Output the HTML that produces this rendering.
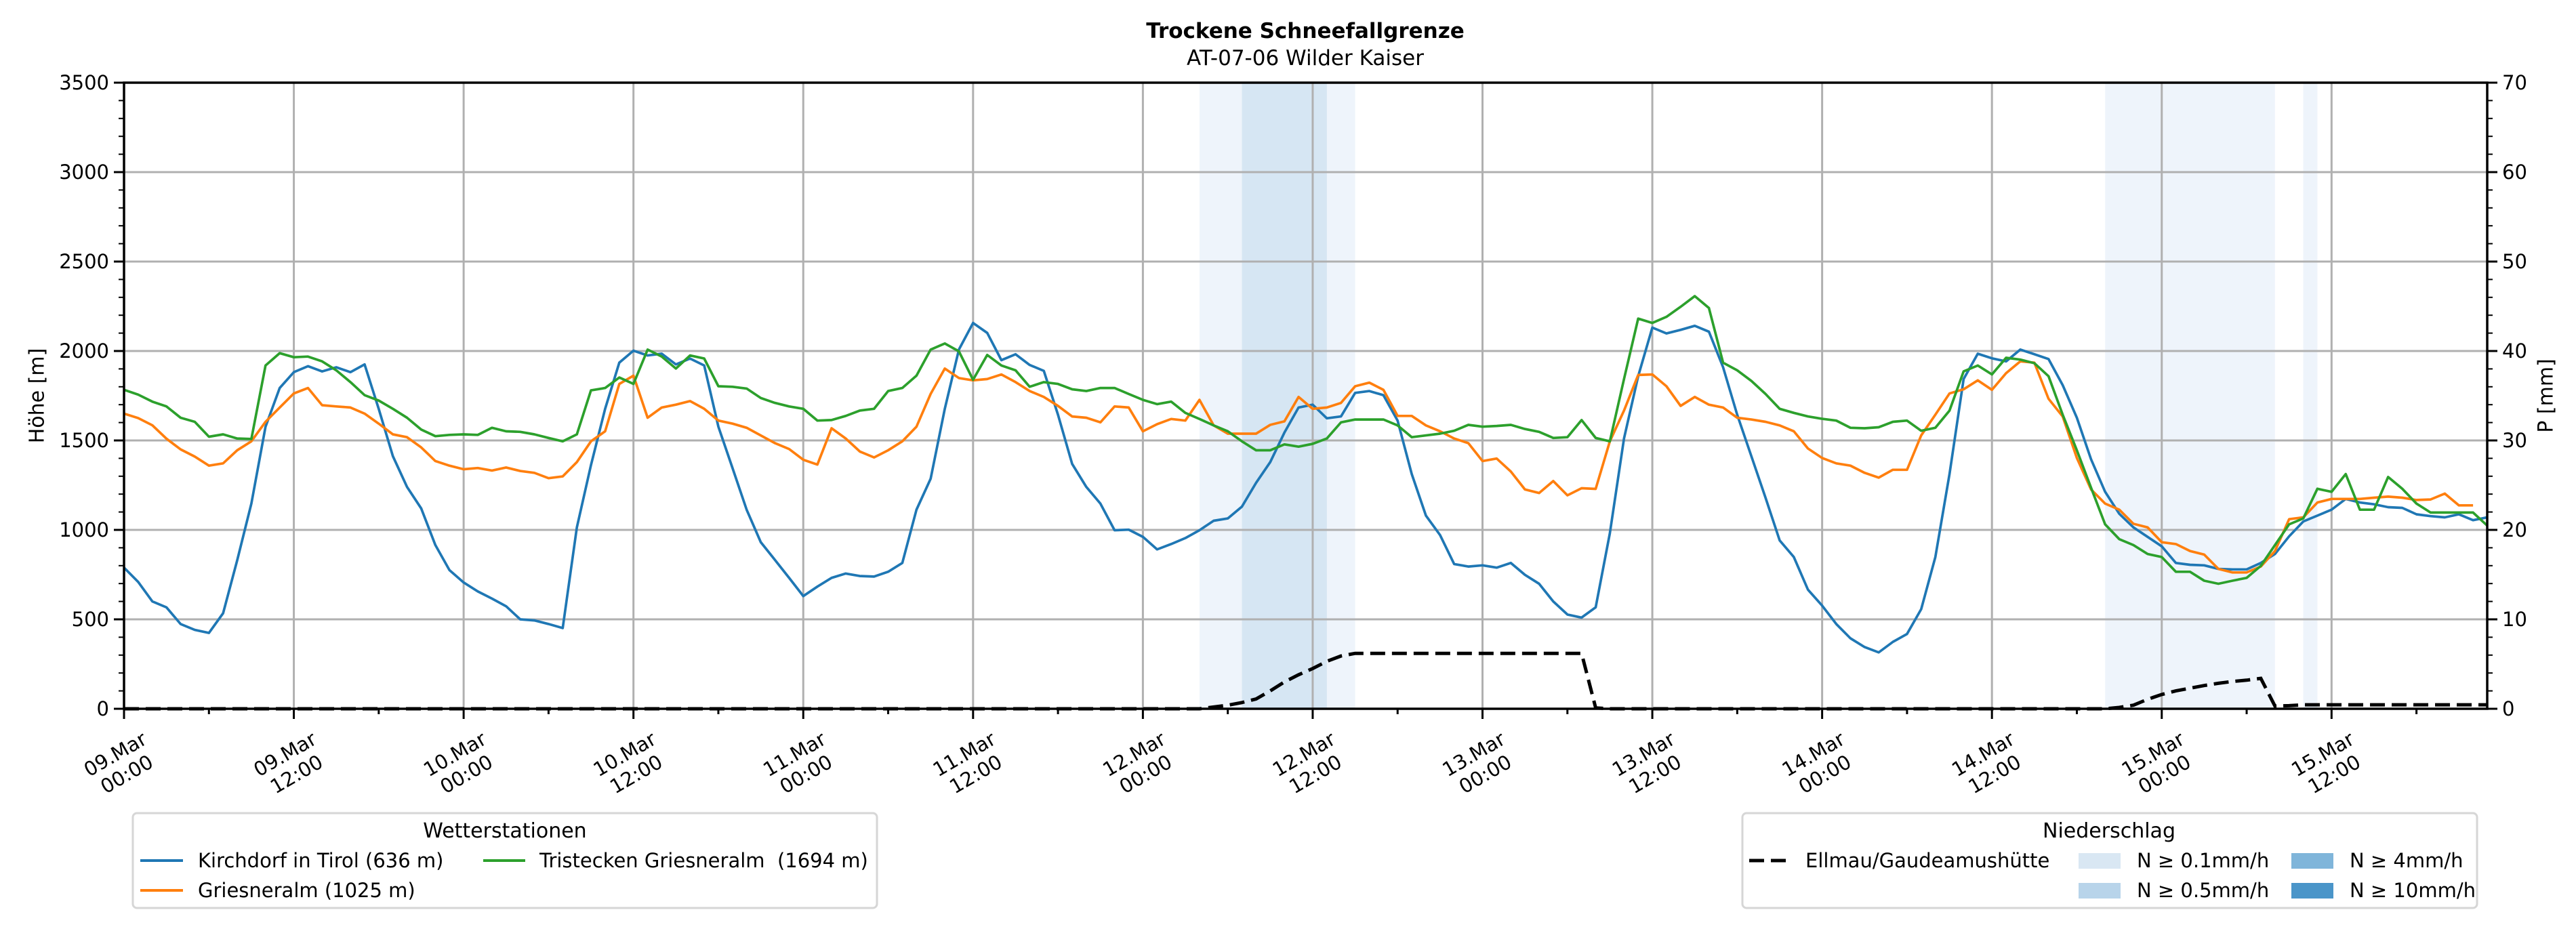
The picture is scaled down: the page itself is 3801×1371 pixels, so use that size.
<!DOCTYPE html>
<html><head><meta charset="utf-8"><style>
html,body{margin:0;padding:0;background:#fff;}
svg{display:block;font-family:"DejaVu Sans","Liberation Sans",sans-serif;}
</style></head><body>
<svg id="chart" width="3801" height="1371" viewBox="0 0 3801 1371" xmlns="http://www.w3.org/2000/svg">
<rect width="3801" height="1371" fill="#fff"/>
<text x="1926" y="56" font-size="31" font-weight="bold" text-anchor="middle">Trockene Schneefallgrenze</text>
<text x="1926" y="96" font-size="31" text-anchor="middle">AT-07-06 Wilder Kaiser</text>
<g id="bands"></g><g id="grid"></g><g id="series"></g><g id="axes"></g>
<text transform="translate(56,584) rotate(-90)" font-size="30" text-anchor="middle" dominant-baseline="middle">Höhe [m]</text>
<text transform="translate(3758,584) rotate(-90)" font-size="30" text-anchor="middle" dominant-baseline="middle">P [mm]</text>
<g>
<rect x="196" y="1200" width="1098" height="140" rx="6" fill="#fff" stroke="#d6d6d6" stroke-width="3"/>
<text x="745" y="1236" font-size="30" text-anchor="middle">Wetterstationen</text>
<line x1="207" y1="1270" x2="270" y2="1270" stroke="#1f77b4" stroke-width="4"/>
<text x="292" y="1280" font-size="29">Kirchdorf in Tirol (636 m)</text>
<line x1="207" y1="1314" x2="270" y2="1314" stroke="#ff7f0e" stroke-width="4"/>
<text x="292" y="1324" font-size="29">Griesneralm (1025 m)</text>
<line x1="713" y1="1270" x2="775" y2="1270" stroke="#2ca02c" stroke-width="4"/>
<text x="796" y="1280" font-size="29" xml:space="preserve">Tristecken Griesneralm  (1694 m)</text>
</g>
<g>
<rect x="2571" y="1200" width="1084" height="140" rx="6" fill="#fff" stroke="#d6d6d6" stroke-width="3"/>
<text x="3112" y="1236" font-size="30" text-anchor="middle">Niederschlag</text>
<line x1="2581" y1="1270" x2="2637" y2="1270" stroke="#000" stroke-width="5" stroke-dasharray="22,10"/>
<text x="2664" y="1280" font-size="29">Ellmau/Gaudeamushütte</text>
<rect x="3067" y="1259" width="62" height="23" fill="#d9e7f3"/>
<text x="3153" y="1280" font-size="29">N ≥ 0.1mm/h</text>
<rect x="3067" y="1303" width="62" height="23" fill="#b8d4ea"/>
<text x="3153" y="1324" font-size="29">N ≥ 0.5mm/h</text>
<rect x="3381" y="1259" width="62" height="23" fill="#7fb5da"/>
<text x="3467" y="1280" font-size="29">N ≥ 4mm/h</text>
<rect x="3381" y="1303" width="62" height="23" fill="#4a95c9"/>
<text x="3467" y="1324" font-size="29">N ≥ 10mm/h</text>
</g>
</svg>
<script>
const kirchdorf=[789,709,600,567,474,441,424,534,830,1147,1577,1793,1882,1915,1886,1909,1882,1925,1677,1412,1240,1120,915,775,706,656,616,573,500,494,474,451,1014,1362,1677,1935,2002,1975,1985,1925,1958,1919,1577,1345,1113,931,832,732,630,683,732,756,742,739,
766,815,1113,1286,1677,2008,2157,2101,1949,1982,1922,1889,1644,1369,1240,1147,998,1001,961,891,921,954,998,1051,1064,1130,1263,1379,1544,1684,1700,1624,1634,1766,1776,1753,1611,1312,1080,971,809,795,802,789,815,749,699,600,527,510,567,981,1511,1859,2131,2098,2118,
2141,2108,1909,1644,1412,1180,941,848,666,577,474,394,345,315,374,418,557,848,1312,1843,1985,1959,1942,2008,1982,1955,1809,1627,1395,1213,1090,1014,961,908,815,805,802,782,779,779,815,865,964,1047,1080,1113,1173,1153,1143,1127,1123,1087,1077,1070,1087,1054,1070];
const griesneralm=[1650,1625,1585,1510,1450,1410,1359,1372,1445,1495,1604,1684,1763,1793,1697,1690,1684,1650,1594,1534,1518,1461,1385,1359,1339,1346,1332,1349,1329,1319,1289,1299,1379,1495,1551,1816,1862,1627,1684,1700,1720,1677,1611,1594,1571,1528,1485,1452,1392,1365,1568,1511,1438,
1405,1445,1495,1577,1760,1902,1849,1836,1843,1869,1826,1776,1743,1693,1634,1627,1601,1690,1684,1551,1591,1620,1611,1727,1584,1538,1538,1538,1587,1607,1743,1677,1684,1710,1803,1823,1783,1637,1637,1584,1551,1511,1485,1385,1399,1326,1226,1206,1273,1193,1233,1229,1495,1667,1866,1869,1803,
1693,1743,
1700,1684,1627,1617,1604,1584,1551,1455,1402,1372,1359,1319,1292,1336,1336,1528,1644,1763,1786,1836,1783,1876,1942,1935,1733,1634,1402,1226,1147,1113,1034,1014,931,921,882,862,782,762,762,795,882,1060,1070,1153,1173,1173,1173,1180,1186,1180,1167,1170,1203,1137,1137];
const tristecken=[1783,1756,1717,1690,1627,1604,1521,1534,1511,1508,1919,1988,1965,1969,1942,1892,1826,1753,1723,1677,1627,1561,1524,1531,1534,1531,1571,1551,1548,1534,1514,1495,1534,1780,1793,1852,1816,2008,1969,1902,1975,1958,1803,1800,1790,1737,1710,1690,1677,1611,1614,1637,1667,
1677,1776,1793,1862,2008,2042,1998,1839,1978,1919,1892,1800,1826,1816,1786,1776,1793,1793,1760,1727,1703,1717,1654,1620,1584,1551,1495,1445,1445,1478,1465,1481,1511,1601,1617,1617,1617,1584,1518,1528,1538,1554,1587,1577,1581,1587,1564,1548,1514,1518,1614,1514,1495,1843,2181,2157,2191,2247,
2307,2240,1935,1892,1833,1760,1677,1654,1634,1621,1611,1571,1568,1574,1604,1611,1554,1571,1667,1886,1919,1869,1962,1952,1932,1859,1644,1445,1236,1031,948,915,865,848,766,766,716,699,716,732,799,915,1031,1064,1230,1213,1312,1113,1113,1296,1230,1147,1097,1097,1097,1097,1024];
const precip=[0,0,0,0,0,0,0,0,0,0,0,0,0,0,0,0,0,0,0,0,0,0,0,0,0,0,0,0,0,0,0,0,0,0,0,0,0,0,0,0,0,0,0,0,0,0,0,0,0,0,0,0,0,0,0,0,0,0,0,0,0,0,0,0,0,0,0,0,0,0,0,0,0,0,0,0,0,
0.2,0.4,0.7,1.1,2.0,3.0,3.8,4.5,5.3,5.9,6.2,6.2,6.2,6.2,6.2,6.2,6.2,6.2,6.2,6.2,6.2,6.2,6.2,6.2,6.2,6.2,6.2,
0.1,0,0,0,0,0,0,0,0,0,0,0,0,0,0,0,0,0,0,0,0,0,0,0,0,0,0,0,0,0,0,0,0,0,0,0,0,
0.15,0.4,1.06,1.6,2.0,2.3,2.6,2.85,3.05,3.2,3.4,0.3,0.35,0.45,0.45,0.45,0.45,0.45,0.45,0.45,0.45,0.45,0.45,0.45,0.45,0.45,0.45];
const bandStart=[76,79,140,154];
const bandEnd=[87,85,152,155];
const bandLevel=[0.1,0.5,0.1,0.1];
const xTickHours=[0,12,24,36,48,60,72,84,96,108,120,132,144,156];
const xTickDays=["09.Mar","09.Mar","10.Mar","10.Mar","11.Mar","11.Mar","12.Mar","12.Mar","13.Mar","13.Mar","14.Mar","14.Mar","15.Mar","15.Mar"];
const xTickTimes=["00:00","12:00","00:00","12:00","00:00","12:00","00:00","12:00","00:00","12:00","00:00","12:00","00:00","12:00"];
const yTicks=[0,500,1000,1500,2000,2500,3000,3500];
const y2Ticks=[0,10,20,30,40,50,60,70];

const NS="http://www.w3.org/2000/svg";
const L=183,R=3670,T=122,B=1046,HMAX=167;
const x=h=>L+h*(R-L)/HMAX;
const yL=v=>B-v/3500*(B-T);
const yR=p=>B-p/70*(B-T);
function mk(tag,attrs,parent){const e=document.createElementNS(NS,tag);for(const k in attrs)e.setAttribute(k,attrs[k]);parent.appendChild(e);return e;}
const gB=document.getElementById('bands'),gG=document.getElementById('grid'),gS=document.getElementById('series'),gA=document.getElementById('axes');
bandStart.forEach((s,i)=>{
  const r=mk('rect',{x:x(s),y:T,width:x(bandEnd[i])-x(s),height:B-T,fill:bandLevel[i]>=0.5?'#d6e6f3':'#eef4fb'},gB);
  
  
});
xTickHours.forEach(h=>{mk('line',{x1:x(h),x2:x(h),y1:T,y2:B,stroke:'#b0b0b0','stroke-width':3},gG);});
yTicks.forEach(v=>{mk('line',{x1:L,x2:R,y1:yL(v),y2:yL(v),stroke:'#b0b0b0','stroke-width':3},gG);});
function path(vals,yf){return vals.map((v,i)=>(i?'L':'M')+x(i).toFixed(1)+','+yf(v).toFixed(1)).join('');}
const pr=mk('path',{d:path(precip,yR),fill:'none',stroke:'#000','stroke-width':5,'stroke-dasharray':'22,10'},gS);


[[kirchdorf,'#1f77b4','kirchdorf-line'],[griesneralm,'#ff7f0e','griesneralm-line'],[tristecken,'#2ca02c','tristecken-line']].forEach(s=>{
  const p=mk('path',{d:path(s[0],yL),fill:'none',stroke:s[1],'stroke-width':3.7,'stroke-linejoin':'round'},gS);
  
  
});
mk('rect',{x:L,y:T,width:R-L,height:B-T,fill:'none',stroke:'#000','stroke-width':3.5},gA);
for(let h=0;h<=HMAX;h+=6){const maj=h%12===0;mk('line',{x1:x(h),x2:x(h),y1:B,y2:B+(maj?15:8),stroke:'#000','stroke-width':3},gA);}
for(let v=0;v<=3500;v+=100){const maj=v%500===0;mk('line',{x1:L,x2:L-(maj?15:8),y1:yL(v),y2:yL(v),stroke:'#000','stroke-width':maj?3:2},gA);}
for(let p=0;p<=70;p+=2){const maj=p%10===0;mk('line',{x1:R,x2:R+(maj?15:8),y1:yR(p),y2:yR(p),stroke:'#000','stroke-width':maj?3:2},gA);}
yTicks.forEach(v=>{const t=mk('text',{x:L-22,y:yL(v)+10,'font-size':29,'text-anchor':'end'},gA);t.textContent=v;
  
  });
y2Ticks.forEach(p=>{const t=mk('text',{x:R+22,y:yR(p)+10,'font-size':29},gA);t.textContent=p;
  
  });
xTickHours.forEach((h,i)=>{
  const t=mk('text',{transform:'translate('+(x(h)-5)+',1127) rotate(-30)','font-size':29,'text-anchor':'middle'},gA);
  
  
  const a=mk('tspan',{x:0,y:-6},t);a.textContent=xTickDays[i];
  const b=mk('tspan',{x:0,y:28},t);b.textContent=xTickTimes[i];
});
</script>
</body></html>
